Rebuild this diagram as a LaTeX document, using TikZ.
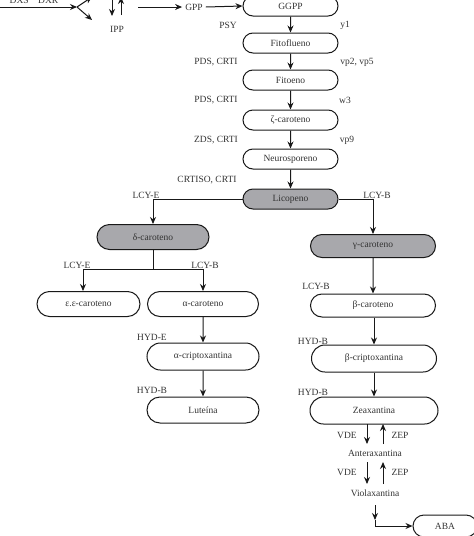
\documentclass[tikz,border=0pt]{standalone}
\usepackage{fontspec}
\setmainfont{Liberation Serif}
\usetikzlibrary{shapes.misc,arrows.meta}
\definecolor{boxgray}{HTML}{A8A8AC}
\tikzset{
  x=1pt,y=-1pt,
  every node/.style={font=\fontsize{9.5}{11}\selectfont, text=black!80},
  box/.style={draw=black!90, line width=1pt, rounded rectangle, inner sep=0pt, minimum height=20pt},
  graybox/.style={box, fill=boxgray},
  arr/.style={draw=black!90, line width=1pt, -{Stealth[length=7pt,width=6pt]}},
  ln/.style={draw=black!90, line width=1pt},
  lbl/.style={inner sep=0pt}
}
\begin{document}
\begin{tikzpicture}
\useasboundingbox (0,0) rectangle (474,536);
% top row
\coordinate (s0) at (0,7);
\coordinate (fk) at (77,7);
\coordinate (fu) at (92,-3);
\coordinate (fd) at (92,20);
\node[lbl] (dxs) at (34,0.5) {DXS\quad DXR};
\draw[arr] (s0) -- (fk);
\draw[arr] (fk) -- (fu);
\draw[arr] (fk) -- (fd);
\coordinate (i1a) at (112,-3);
\coordinate (i1b) at (112,16);
\coordinate (i2a) at (121,15);
\coordinate (i2b) at (121,-3);
\draw[arr] (i1a) -- (i1b);
\draw[arr] (i2a) -- (i2b);
\node[lbl] (ipp) at (117,29) {IPP};
\coordinate (g0) at (138,7);
\node[lbl] (gpp) at (194,7) {GPP};
\draw[arr] (g0) -- ([xshift=-3pt]gpp.west);
% main column
\node[box, minimum width=95pt] (ggpp) at (290.5,6) {GGPP};
\draw[arr] ([xshift=3pt]gpp.east) -- (ggpp.west);
\node[box, minimum width=95pt] (fitofl) at (290.5,43) {Fitoflueno};
\node[box, minimum width=95pt] (fitoeno) at (290.5,80) {Fitoeno};
\node[box, minimum width=95pt] (zeta) at (290.5,120) {ζ-caroteno};
\node[box, minimum width=95pt] (neuro) at (290.5,159) {Neurosporeno};
\node[graybox, minimum width=95pt] (lic) at (290.5,199) {Licopeno};
\draw[arr] (ggpp) -- (fitofl);
\draw[arr] (fitofl) -- (fitoeno);
\draw[arr] (fitoeno) -- (zeta);
\draw[arr] (zeta) -- (neuro);
\draw[arr] (neuro) -- (lic);
\node[lbl] (psy) at (228,25) {PSY};
\node[lbl] (pds1) at (216,62) {PDS, CRTI};
\node[lbl] (pds2) at (216,100) {PDS, CRTI};
\node[lbl] (zds) at (216,140) {ZDS, CRTI};
\node[lbl] (crtiso) at (207,180) {CRTISO, CRTI};
\node[lbl] (y1) at (345,25) {y1};
\node[lbl] (vp2) at (357,62) {vp2, vp5};
\node[lbl] (w3) at (345,100) {w3};
\node[lbl] (vp9) at (347,140) {vp9};
% branches
\node[graybox, minimum width=112pt, minimum height=25pt] (delta) at (153,237) {δ-caroteno};
\node[graybox, minimum width=125pt, minimum height=23pt] (gamma) at (373,246) {γ-caroteno};
\draw[arr] (lic.west) -| (delta.north);
\draw[arr] (lic.east) -| (gamma.north);
\node[lbl] (lcye1) at (146,195) {LCY-E};
\node[lbl] (lcyb1) at (377,195) {LCY-B};
\node[box, minimum width=103pt, minimum height=25pt] (epseps) at (88.5,304) {ε.ε-caroteno};
\node[box, minimum width=111pt, minimum height=25pt] (alpha) at (203,304) {α-caroteno};
\node[box, minimum width=125pt, minimum height=23pt] (beta) at (373,305.5) {β-caroteno};
\coordinate (jl) at (83,269);
\coordinate (jr) at (203,269);
\coordinate (jm) at (153,269);
\draw[ln] (delta.south) -- (jm);
\draw[ln] (jl) -- (jr);
\draw[arr] (jl) -- (jl |- epseps.north);
\draw[arr] (jr) -- (alpha.north);
\draw[arr] (gamma) -- (beta);
\node[lbl] (lcye2) at (77,265) {LCY-E};
\node[lbl] (lcyb2) at (205,265) {LCY-B};
\node[lbl] (lcyb3) at (316,286) {LCY-B};
\node[box, minimum width=112pt, minimum height=27pt] (acript) at (203,356.5) {α-criptoxantina};
\node[box, minimum width=112pt, minimum height=26pt] (lut) at (203,410) {Luteína};
\node[box, minimum width=125pt, minimum height=27pt] (bcript) at (374,358.5) {β-criptoxantina};
\node[box, minimum width=128pt, minimum height=27pt] (zea) at (374,410.5) {Zeaxantina};
\draw[arr] (alpha) -- (acript);
\draw[arr] (acript) -- (lut);
\draw[arr] (beta.south -| bcript.north) -- (bcript.north);
\draw[arr] (bcript) -- (zea);
\node[lbl] (hyde) at (152,337) {HYD-E};
\node[lbl] (hydb1) at (152,390) {HYD-B};
\node[lbl] (hydb2) at (313,341) {HYD-B};
\node[lbl] (hydb3) at (313,392) {HYD-B};
% xanthophyll cycle
\node[lbl] (antera) at (375,453) {Anteraxantina};
\node[lbl] (viola) at (375,493) {Violaxantina};
\coordinate (a1) at (367,424);
\coordinate (a2) at (367,444);
\coordinate (b1) at (383,444);
\coordinate (b2) at (383,424);
\coordinate (c1) at (367,462);
\coordinate (c2) at (367,484);
\coordinate (d1) at (383,484);
\coordinate (d2) at (383,462);
\draw[arr] (a1) -- (a2);
\draw[arr] (b1) -- (b2);
\draw[arr] (c1) -- (c2);
\draw[arr] (d1) -- (d2);
\node[lbl] (vde1) at (347,435) {VDE};
\node[lbl] (zep1) at (400,435) {ZEP};
\node[lbl] (vde2) at (347,472) {VDE};
\node[lbl] (zep2) at (400,472) {ZEP};
\node[box, minimum width=64pt, minimum height=22pt] (aba) at (445,526) {ABA};
\coordinate (va) at (375,505);
\coordinate (vm) at (375,520);
\coordinate (vb) at (375,526);
\draw[arr] (va) -- (vm);
\draw[ln] (vm) -- (vb);
\draw[arr] (vb) -- (aba.west);
\end{tikzpicture}
\end{document}
